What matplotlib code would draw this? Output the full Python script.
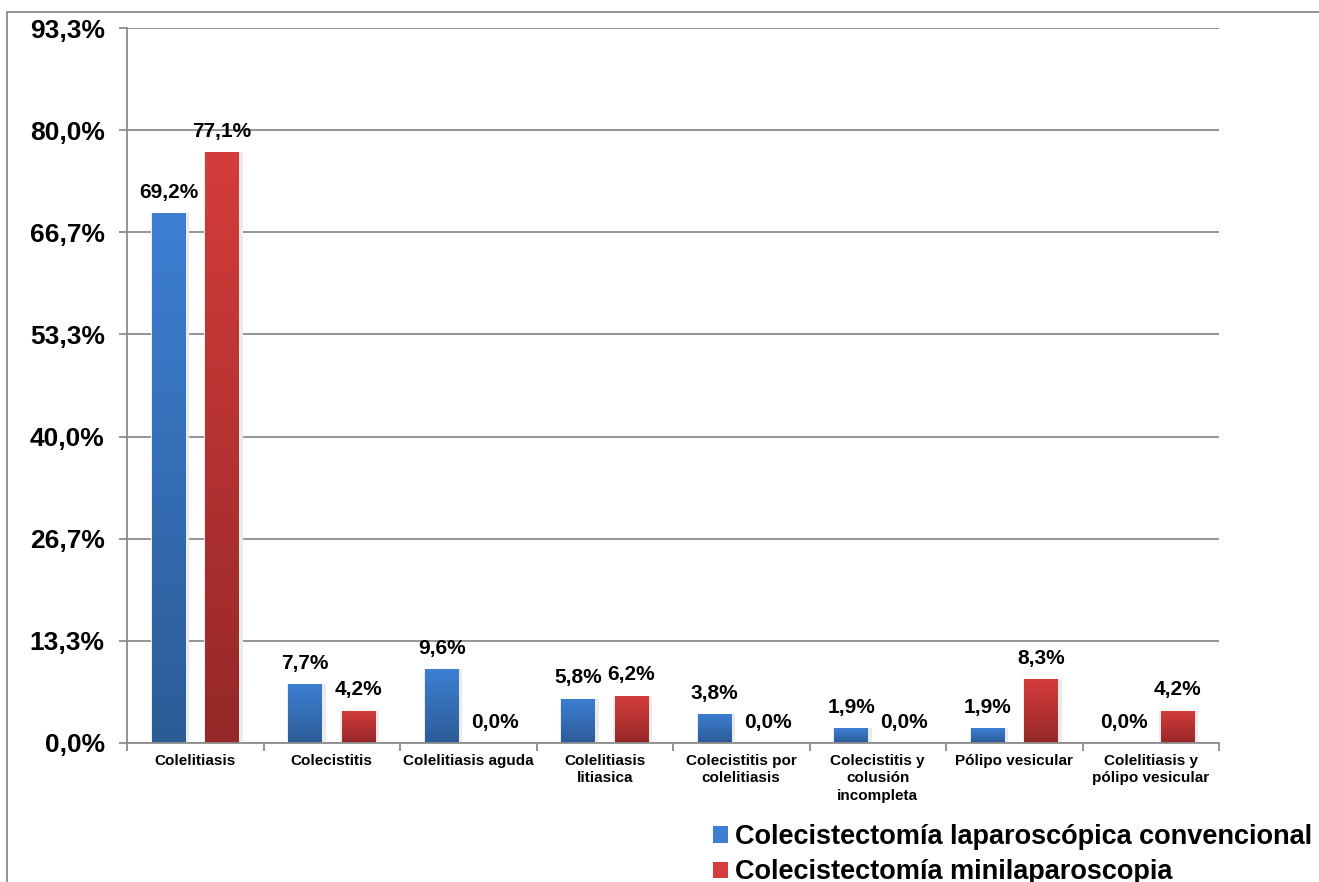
import numpy as np
import matplotlib.pyplot as plt
from matplotlib.patches import Rectangle, Patch
from matplotlib.colors import LinearSegmentedColormap

plt.rcParams['font.family'] = ['Liberation Sans', 'DejaVu Sans']
plt.rcParams['font.weight'] = 'bold'

# data
categories = ['Colelitiasis', 'Colecistitis', 'Colelitiasis aguda',
              'Colelitiasis\nlitiasica', 'Colecistitis por\ncolelitiasis',
              'Colecistitis y\ncolusión\nincompleta', 'Pólipo vesicular',
              'Colelitiasis y\npólipo vesicular']
convencional = [69.2, 7.7, 9.6, 5.8, 3.8, 1.9, 1.9, 0.0]
minilaparoscopia = [77.1, 4.2, 0.0, 6.2, 0.0, 0.0, 8.3, 4.2]
series_names = ['Colecistectomía laparoscópica convencional',
                'Colecistectomía minilaparoscopia']
y_ticks = [0, 13.333, 26.667, 40.0, 53.333, 66.667, 80.0, 93.333]
y_ticklabels = ['0,0%', '13,3%', '26,7%', '40,0%', '53,3%', '66,7%', '80,0%', '93,3%']

blue_top, blue_bot = '#3d7fd3', '#2c5c96'
red_top, red_bot = '#d43d3b', '#952828'

fig = plt.figure(figsize=(13.19, 8.82), dpi=100)
ax = fig.add_axes([127 / 1319, 1 - 743 / 882, (1219 - 127) / 1319, (743 - 28) / 882])

# chart area frame (cropped at the right/bottom)
fig.patches.append(Rectangle((7 / 1319, -0.1), 1.2, 1 - 12 / 882 + 0.1,
                             transform=fig.transFigure, fill=False,
                             edgecolor='#8c8c8c', linewidth=1.3, zorder=0))

x = np.arange(len(categories))
w = 0.245
off = 0.195


def gradient_bars(xs, vals, top, bot):
    cmap = LinearSegmentedColormap.from_list('g', [bot, top])
    grad = np.linspace(0, 1, 256).reshape(-1, 1)
    # soft shadow
    ax.bar(xs + 0.01, vals, width=w + 0.04, color='#ebebeb', zorder=2)
    bars = ax.bar(xs, vals, width=w, color='none', zorder=3)
    for b in bars:
        bx, by = b.get_x(), b.get_y()
        bw, bh = b.get_width(), b.get_height()
        if bh <= 0:
            continue
        im = ax.imshow(grad, cmap=cmap, aspect='auto', origin='lower',
                       extent=[bx, bx + bw, by, by + bh], zorder=3)
        im.set_clip_path(b)
    return bars


b1 = gradient_bars(x - off, convencional, blue_top, blue_bot)
b2 = gradient_bars(x + off, minilaparoscopia, red_top, red_bot)

for xs, vals in [(x - off, convencional), (x + off, minilaparoscopia)]:
    for xi, v in zip(xs, vals):
        ax.annotate(f'{v:.1f}%'.replace('.', ','), (xi, v), xytext=(0, 15),
                    textcoords='offset points', ha='center', va='center',
                    fontsize=15, fontweight='bold', zorder=5)

ax.set_xlim(-0.5, len(categories) - 0.5)
ax.set_ylim(0, 93.333)
ax.set_yticks(y_ticks)
ax.set_yticklabels(y_ticklabels, fontsize=19, fontweight='bold')
ax.set_xticks(x)
ax.set_xticklabels(categories, fontsize=11, fontweight='bold', linespacing=1.3)
ax.tick_params(axis='x', length=0, pad=8)
ax.tick_params(axis='y', length=6, width=1.3, color='#8c8c8c', pad=10)
ax.set_xticks(np.arange(len(categories) + 1) - 0.5, minor=True)
ax.tick_params(axis='x', which='minor', length=6, width=1.3, color='#8c8c8c')

ax.yaxis.grid(True, color='#8c8c8c', linewidth=1.3, zorder=0)
ax.set_axisbelow(True)
for s in ['top', 'right']:
    ax.spines[s].set_visible(False)
for s in ['left', 'bottom']:
    ax.spines[s].set_color('#8c8c8c')
    ax.spines[s].set_linewidth(1.3)
ax.spines['bottom'].set_zorder(4)

handles = [Patch(facecolor=blue_top), Patch(facecolor=red_top)]
fig.legend(handles, series_names, loc='upper left',
           bbox_to_anchor=(713 / 1319, 1 - 824 / 882), frameon=False,
           prop={'family': ['Liberation Sans', 'DejaVu Sans'], 'weight': 'bold', 'size': 19.5},
           handlelength=0.55, handleheight=0.55, handletextpad=0.25,
           labelspacing=0.35, borderpad=0, borderaxespad=0)

fig.savefig('out.png', dpi=100)
